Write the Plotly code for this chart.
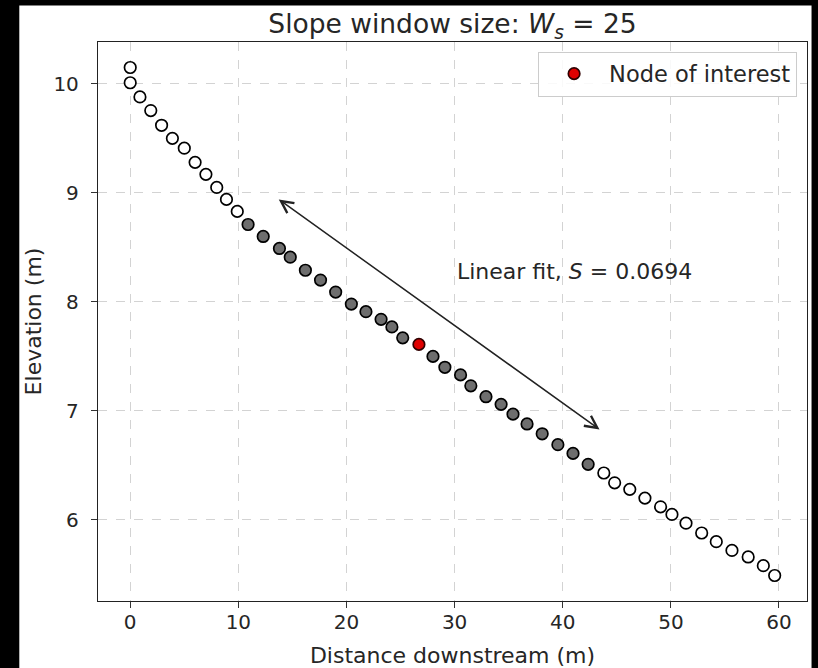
import plotly.graph_objects as go

# distance downstream (m) and elevation (m) of every node along the profile
upstream_x = [0.0, 0.0, 0.9, 1.9, 2.9, 3.9, 5.0, 6.0, 7.0, 8.0, 8.9, 9.9]
upstream_y = [10.15, 10.01, 9.88, 9.755, 9.62, 9.50, 9.41, 9.28, 9.17, 9.05, 8.94, 8.83]

window_x = [10.9, 12.3, 13.8, 14.8, 16.2, 17.6, 19.0, 20.45, 21.8, 23.2, 24.2, 25.2,
            28.0, 29.1, 30.55, 31.5, 32.9, 34.3, 35.4, 36.7, 38.1, 39.55, 40.95, 42.35]
window_y = [8.71, 8.60, 8.49, 8.41, 8.29, 8.20, 8.09, 7.98, 7.91, 7.84, 7.77, 7.67,
            7.50, 7.40, 7.33, 7.23, 7.13, 7.06, 6.97, 6.88, 6.79, 6.69, 6.61, 6.51]

node_x = [26.7]
node_y = [7.61]

downstream_x = [43.8, 44.8, 46.2, 47.6, 49.05, 50.1, 51.4, 52.85, 54.2, 55.65, 57.15, 58.55, 59.6]
downstream_y = [6.43, 6.34, 6.28, 6.20, 6.12, 6.05, 5.97, 5.88, 5.80, 5.72, 5.66, 5.58, 5.49]

# ends of the double arrow showing the linear fit
fit_start = (13.6, 8.95)
fit_end = (43.4, 6.83)
slope = 0.0694
window_size = 25

FONT = 'DejaVu Sans'
TXT = '#262626'

fig = go.Figure()

open_marker = dict(size=11.5, color='white', line=dict(color='black', width=1.7))
fig.add_trace(go.Scatter(x=upstream_x, y=upstream_y, mode='markers', marker=open_marker,
                         showlegend=False, hoverinfo='skip'))
fig.add_trace(go.Scatter(x=downstream_x, y=downstream_y, mode='markers', marker=open_marker,
                         showlegend=False, hoverinfo='skip'))
fig.add_trace(go.Scatter(x=window_x, y=window_y, mode='markers',
                         marker=dict(size=11.5, color='#6e6e6e', line=dict(color='black', width=1.7)),
                         showlegend=False, hoverinfo='skip'))
fig.add_trace(go.Scatter(x=node_x, y=node_y, mode='markers', name='Node of interest',
                         marker=dict(size=11.5, color='#e00000', line=dict(color='#300000', width=1.7))))

# double headed arrow
fig.add_annotation(x=fit_end[0], y=fit_end[1], ax=fit_start[0], ay=fit_start[1],
                   xref='x', yref='y', axref='x', ayref='y',
                   text='', showarrow=True,
                   arrowside='end+start', arrowhead=5, startarrowhead=5,
                   arrowsize=1.6, startarrowsize=1.6, arrowwidth=1.5, arrowcolor='#222222',
                   standoff=0, startstandoff=0)

fig.add_annotation(x=30.0, y=8.28, xref='x', yref='y', xanchor='left', yanchor='middle',
                   text=f'Linear fit, <i>S</i> = {slope}', showarrow=False,
                   font=dict(family=FONT, size=22, color=TXT))

# white figure area on the black page
fig.add_shape(type='rect', xref='paper', yref='paper', x0=-0.111, x1=1.0064, y0=-0.13, y1=1.0654,
              fillcolor='white', line=dict(width=0), layer='below')

axis_common = dict(
    showgrid=True, gridcolor='#d3d3d3', griddash='dash', gridwidth=1,
    zeroline=False, showline=True, linecolor='#222222', linewidth=1.3, mirror=True,
    ticks='outside', ticklen=6, tickwidth=1.2, tickcolor='#333333', automargin=False,
    tickfont=dict(family=FONT, size=20, color=TXT),
)

fig.update_xaxes(range=[-2.98, 62.59], tickvals=[0, 10, 20, 30, 40, 50, 60], ticklabelstandoff=-3,
                 title=dict(text='Distance downstream (m)', standoff=15,
                            font=dict(family=FONT, size=22, color=TXT)),
                 **axis_common)
fig.update_yaxes(range=[5.256, 10.384], tickvals=[6, 7, 8, 9, 10], ticklabelstandoff=8,
                 title=dict(text='Elevation (m)', standoff=5,
                            font=dict(family=FONT, size=22, color=TXT)),
                 **axis_common)

fig.update_layout(
    width=818, height=668,
    margin=dict(l=98, r=11, t=42, b=67, autoexpand=False),
    paper_bgcolor='black', plot_bgcolor='white',
    font=dict(family=FONT, color=TXT),
    title=dict(text=f'Slope window size: <i>W<sub>s</sub></i> = {window_size}',
               x=0.5, xref='paper', xanchor='center',
               y=1 - 24 / 668, yref='container', yanchor='middle',
               font=dict(family=FONT, size=26.5, color=TXT)),
    legend=dict(x=0.986, y=0.983, xanchor='right', yanchor='top', itemwidth=60,
                bgcolor='rgba(255,255,255,0.85)', bordercolor='#cccccc', borderwidth=1,
                font=dict(family=FONT, size=22.5, color=TXT)),
)

# drop the browser's default page margin so the figure sits at the window corner
fig.write_html('out.html', config={'displayModeBar': False},
               post_script="document.body.style.margin='0';document.body.style.background='black';")
